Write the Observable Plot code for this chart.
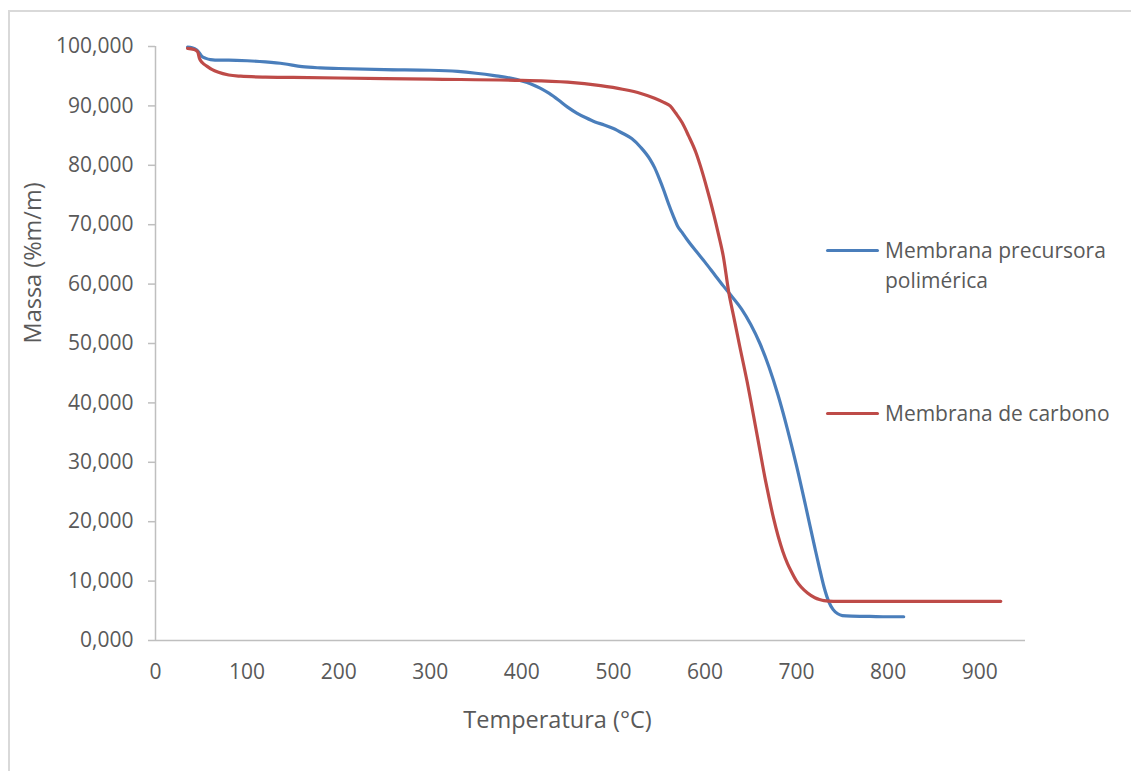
<!DOCTYPE html>
<html>
<head>
<meta charset="utf-8">
<script src="https://cdn.jsdelivr.net/npm/d3@7"></script>
<script src="https://cdn.jsdelivr.net/npm/@observablehq/plot@0.6"></script>
<style>
  html, body { margin: 0; padding: 0; background: #fff; overflow: hidden; }
  #wrap { position: relative; width: 1131px; height: 771px; font-family: "Open Sans", sans-serif; color: #595959; }
  #frame { position: absolute; left: 8px; top: 10px; width: 1200px; height: 800px; border-left: 2px solid #d9d9d9; border-top: 2px solid #d9d9d9; box-sizing: border-box; }
  #chart { position: absolute; left: 0; top: 0; }
  .leg { position: absolute; font-size: 21px; line-height: 30px; color: #595959; }
  .sw { position: absolute; height: 3px; width: 53px; border-radius: 2px; }
</style>
</head>
<body>
<div id="wrap">
  <div id="frame"></div>
  <div id="chart"></div>
  <div class="sw" style="left:826px; top:248.5px; background:#4a7ebb"></div>
  <div class="leg" style="left:885px; top:235px;">Membrana precursora<br>polimérica</div>
  <div class="sw" style="left:826px; top:411.5px; background:#be4b48"></div>
  <div class="leg" style="left:885px; top:398px;">Membrana de carbono</div>
</div>
<script>
const seriesNames = ["Membrana precursora polimérica", "Membrana de carbono"];

const precursorTemp = [35,40,45,48,51,55,60,70,80,100,120,140,160,180,200,250,300,330,350,370,390,400,410,420,430,440,450,460,470,480,490,500,510,520,530,540,545,550,555,560,565,570,575,580,590,600,610,620,630,640,650,660,670,680,690,700,710,720,725,730,735,740,745,750,760,780,800,817];
const precursorMass = [99.9,99.8,99.4,98.9,98.3,98.0,97.8,97.7,97.7,97.6,97.4,97.1,96.6,96.4,96.3,96.1,96.0,95.8,95.5,95.1,94.6,94.2,93.7,93.0,92.1,91.0,89.8,88.8,88.0,87.3,86.8,86.2,85.4,84.5,83.0,81.0,79.6,77.8,75.8,73.6,71.6,69.8,68.7,67.6,65.6,63.7,61.7,59.7,57.8,55.8,53.2,50.0,46.0,41.2,35.6,29.4,22.6,15.6,12.2,9.0,6.6,5.2,4.5,4.2,4.1,4.05,4.0,4.0];

const carbonTemp = [35,42,46,48,51,56,62,68,80,93,120,150,200,300,400,450,486,510,530,545,555,562,568,575,582,590,595,600,605,610,615,620,626,631,638,646,655,660,666,670,675,680,685,690,694,700,705,712,720,725,730,740,800,923];
const carbonMass = [99.7,99.5,99.1,98.0,97.3,96.7,96.1,95.7,95.2,95.0,94.85,94.8,94.7,94.5,94.3,94.0,93.4,92.8,92.1,91.3,90.6,90.0,88.8,87.2,85.0,82.2,79.9,77.3,74.5,71.5,68.2,64.7,58.6,54.8,49.5,43.6,36.2,32.0,27.0,24.0,20.5,17.5,15.0,13.0,11.7,10.0,9.0,8.0,7.2,6.9,6.7,6.6,6.6,6.6];

const yTicks = [0,10,20,30,40,50,60,70,80,90,100];
const xTicks = [0,100,200,300,400,500,600,700,800,900];
const xLabel = "Temperatura (°C)";
const yLabel = "Massa (%m/m)";

const precursor = precursorTemp.map((t, i) => ({t, m: precursorMass[i], s: seriesNames[0]}));
const carbon = carbonTemp.map((t, i) => ({t, m: carbonMass[i], s: seriesNames[1]}));

const fmtY = v => v.toFixed(3).replace(".", ",");

const chart = Plot.plot({
  width: 1131,
  height: 771,
  marginLeft: 155,
  marginRight: 106,
  marginTop: 46,
  marginBottom: 131,
  style: { fontFamily: "Open Sans, sans-serif", fontSize: "21px", color: "#595959", background: "transparent", overflow: "visible" },
  x: { domain: [0, 950], ticks: xTicks, label: null },
  y: { domain: [0, 100], ticks: yTicks, label: null },
  marks: [
    Plot.ruleX([0], { stroke: "#bfbfbf", strokeWidth: 1.5 }),
    Plot.ruleY([0], { stroke: "#bfbfbf", strokeWidth: 1.5 }),
    Plot.axisY(yTicks, { tickSize: 7, tickPadding: 15, tickFormat: fmtY, stroke: "#bfbfbf", strokeWidth: 1.5, fill: "#595959", fontSize: 21, label: null }),
    Plot.axisX(xTicks, { tickSize: 0, tickPadding: 24, tickFormat: d => String(d), fill: "#595959", fontSize: 21, label: null }),
    Plot.line(precursor, { x: "t", y: "m", stroke: "#4a7ebb", strokeWidth: 3.2, curve: "monotone-x", strokeLinecap: "round" }),
    Plot.line(carbon, { x: "t", y: "m", stroke: "#be4b48", strokeWidth: 3.2, curve: "monotone-x", strokeLinecap: "round" }),
    Plot.text([yLabel], { frameAnchor: "left", dx: -122, rotate: -90, text: d => d, fill: "#595959", fontSize: 23.5 }),
    Plot.text([xLabel], { frameAnchor: "bottom", dx: -33, dy: 87, text: d => d, fill: "#595959", fontSize: 23.5 })
  ]
});
document.getElementById("chart").appendChild(chart);
</script>
</body>
</html>
